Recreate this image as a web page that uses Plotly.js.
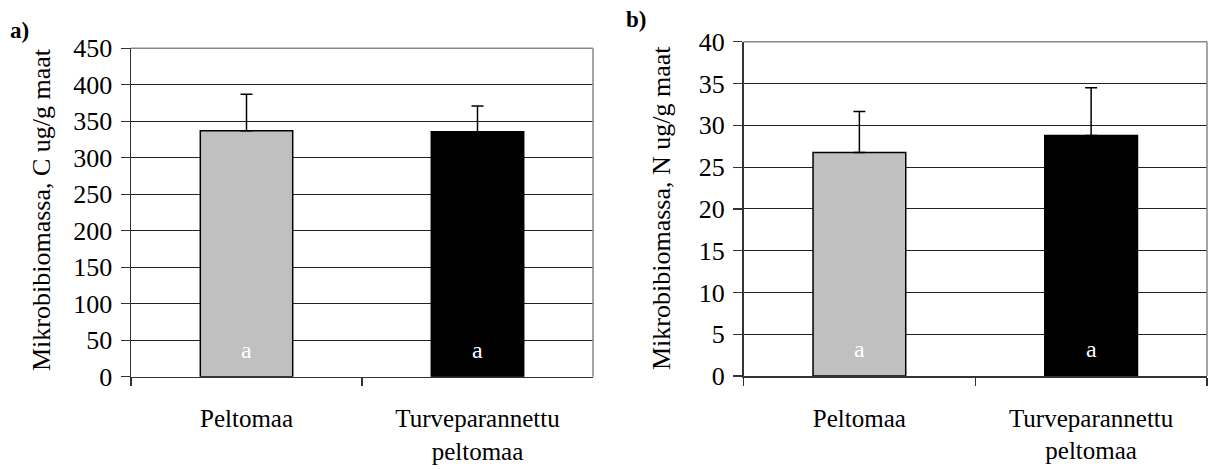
<!DOCTYPE html>
<html>
<head>
<meta charset="utf-8">
<script src="https://cdn.plot.ly/plotly-3.0.1.min.js"></script>
<style>html,body{margin:0;padding:0;background:#fff;}#chart{width:1211px;height:469px;}</style>
</head>
<body>
<div id="chart"></div>
<script>
// Data
const categories = ['Peltomaa', 'Turveparannettu<br>peltomaa'];
const carbonValues = [337, 335.5];
const carbonErrors = [50, 35.5];
const nitrogenValues = [26.75, 28.8];
const nitrogenErrors = [4.9, 5.7];
const sigLettersC = ['a', 'a'];
const sigLettersN = ['a', 'a'];
const barColors = ['#C0C0C0', '#000000'];
const yTitleC = 'Mikrobibiomassa, C ug/g maat';
const yTitleN = 'Mikrobibiomassa, N ug/g maat';
const panelLabels = ['a)', 'b)'];

const FONT = '"Liberation Serif", "Times New Roman", serif';

function barTrace(vals, errs, xa, ya) {
  return {
    type: 'bar', x: categories, y: vals, xaxis: xa, yaxis: ya,
    width: 0.4,
    marker: {color: barColors, line: {color: '#000', width: 1.5}},
    error_y: {type: 'data', symmetric: false, array: errs, arrayminus: errs.map(() => 0),
              color: '#000', thickness: 1.5, width: 6},
    hoverinfo: 'none', showlegend: false
  };
}

const data = [
  barTrace(carbonValues, carbonErrors, 'x', 'y'),
  barTrace(nitrogenValues, nitrogenErrors, 'x2', 'y2')
];

const xCommon = {
  type: 'category', tickson: 'boundaries', ticks: 'outside', ticklen: 8, tickcolor: '#333', tickwidth: 1.2,
  showline: true, linecolor: '#333', linewidth: 1.5, showgrid: false, zeroline: false,
  tickfont: {family: FONT, size: 25, color: '#000'}, ticklabelstandoff: 19, range: [-0.5, 1.5], fixedrange: true
};
const yCommon = {
  ticks: 'outside', ticklen: 9, tickcolor: '#333', tickwidth: 1.2,
  showline: true, linecolor: '#333', linewidth: 1.5,
  showgrid: true, gridcolor: '#222', gridwidth: 1, zeroline: false,
  tickfont: {family: FONT, size: 26, color: '#000'}, ticklabelstandoff: 3, fixedrange: true
};

const layout = {
  width: 1211, height: 469,
  margin: {l: 0, r: 0, t: 0, b: 0},
  paper_bgcolor: '#fff', plot_bgcolor: '#fff',
  bargap: 0.6,
  xaxis: Object.assign({}, xCommon, {domain: [131/1211, 593/1211], anchor: 'y'}),
  yaxis: Object.assign({}, yCommon, {domain: [1 - 376.7/469, 1 - 48.3/469], range: [0, 450], dtick: 50, anchor: 'x'}),
  xaxis2: Object.assign({}, xCommon, {domain: [743.5/1211, 1207/1211], anchor: 'y2'}),
  yaxis2: Object.assign({}, yCommon, {domain: [1 - 376/469, 1 - 41.8/469], range: [0, 40], dtick: 5, anchor: 'x2'}),
  shapes: [
    {type: 'line', xref: 'x domain', yref: 'y domain', x0: 0, x1: 1, y0: 1, y1: 1, line: {color: '#888', width: 1.5}},
    {type: 'line', xref: 'x domain', yref: 'y domain', x0: 1, x1: 1, y0: 0, y1: 1, line: {color: '#888', width: 1.5}},
    {type: 'line', xref: 'x2 domain', yref: 'y2 domain', x0: 0, x1: 1, y0: 1, y1: 1, line: {color: '#888', width: 1.5}},
    {type: 'line', xref: 'x2 domain', yref: 'y2 domain', x0: 1, x1: 1, y0: 0, y1: 1, line: {color: '#888', width: 1.5}}
  ],
  annotations: [
    {text: yTitleC, textangle: -90, xref: 'paper', yref: 'paper', x: 42/1211, y: 1 - 210/469,
     xanchor: 'center', yanchor: 'middle', showarrow: false, font: {family: FONT, size: 26, color: '#000'}},
    {text: yTitleN, textangle: -90, xref: 'paper', yref: 'paper', x: 661/1211, y: 1 - 208/469,
     xanchor: 'center', yanchor: 'middle', showarrow: false, font: {family: FONT, size: 26, color: '#000'}},
    {text: '<b>' + panelLabels[0] + '</b>', xref: 'paper', yref: 'paper', x: 19/1211, y: 1 - 30/469,
     xanchor: 'center', yanchor: 'middle', showarrow: false, font: {family: FONT, size: 23, color: '#000'}},
    {text: '<b>' + panelLabels[1] + '</b>', xref: 'paper', yref: 'paper', x: 636/1211, y: 1 - 20/469,
     xanchor: 'center', yanchor: 'middle', showarrow: false, font: {family: FONT, size: 23, color: '#000'}}
  ].concat(
    sigLettersC.map((t, i) => ({text: t, xref: 'x', yref: 'y domain', x: categories[i], y: 0.08,
      xanchor: 'center', yanchor: 'middle', showarrow: false, font: {family: FONT, size: 24, color: '#fff'}})),
    sigLettersN.map((t, i) => ({text: t, xref: 'x2', yref: 'y2 domain', x: categories[i], y: 0.08,
      xanchor: 'center', yanchor: 'middle', showarrow: false, font: {family: FONT, size: 24, color: '#fff'}}))
  )
};

Plotly.newPlot('chart', data, layout, {displayModeBar: false, staticPlot: true});
</script>
</body>
</html>
